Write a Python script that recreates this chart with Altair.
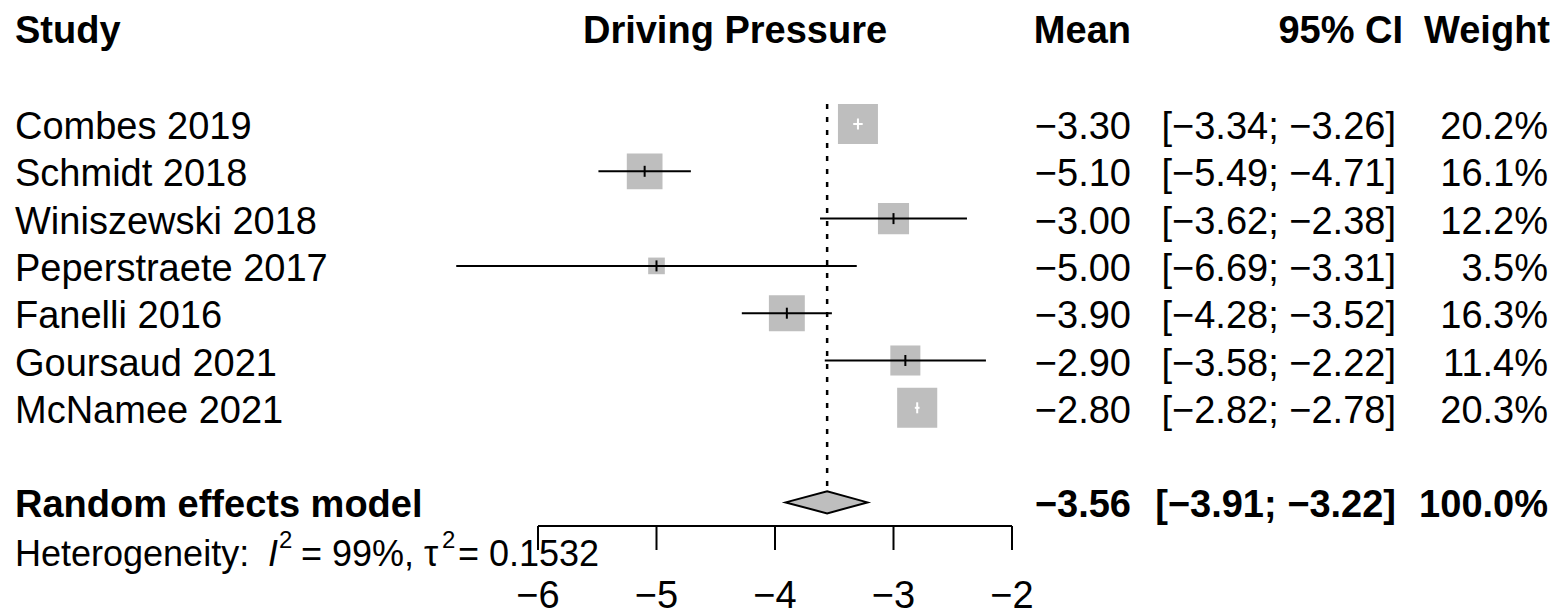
import math
import altair as alt
import pandas as pd

# ---------------- data ----------------
studies = ["Combes 2019", "Schmidt 2018", "Winiszewski 2018", "Peperstraete 2017",
           "Fanelli 2016", "Goursaud 2021", "McNamee 2021"]
means = [-3.30, -5.10, -3.00, -5.00, -3.90, -2.90, -2.80]
lowers = [-3.34, -5.49, -3.62, -6.69, -4.28, -3.58, -2.82]
uppers = [-3.26, -4.71, -2.38, -3.31, -3.52, -2.22, -2.78]
weights = [20.2, 16.1, 12.2, 3.5, 16.3, 11.4, 20.3]

pooled_label = "Random effects model"
pooled_mean = -3.56
pooled_lower = -3.91
pooled_upper = -3.22
pooled_weight = 100.0

x_ticks = [-6, -5, -4, -3, -2]
headers = ["Study", "Driving Pressure", "Mean", "95% CI", "Weight"]

# ---------------- layout constants ----------------
W, H = 1542, 607
PX_PER_UNIT = 118.5
X_AT_M6 = 530.0          # plot-px position of x = -6
ROW0_Y = 116.0           # plot-px of first study row
ROW_STEP = 47.3
FONT = "Liberation Sans"
FS = 38
GRAY = "#BEBEBE"

x_dom = [-6 - X_AT_M6 / PX_PER_UNIT, -6 + (W - X_AT_M6) / PX_PER_UNIT]
y_dom = [-ROW0_Y / ROW_STEP, (H - ROW0_Y) / ROW_STEP]
xs = alt.Scale(domain=x_dom, nice=False, zero=False)
ys = alt.Scale(domain=y_dom, nice=False, zero=False, reverse=True)


def row_of(plot_px):
    return (plot_px - ROW0_Y) / ROW_STEP


def fmt(v):
    return f"{v:.2f}".replace("-", "\u2212")


# ---------------- tables ----------------
rows = list(range(len(studies)))
MAX_SIDE = 40.0
ci_color = []
for l, u, w in zip(lowers, uppers, weights):
    side = MAX_SIDE * math.sqrt(w / 20.2)
    ci_color.append("white" if (u - l) * PX_PER_UNIT < side else "black")

df = pd.DataFrame({
    "row": rows,
    "study": studies,
    "mean": means,
    "lower": lowers,
    "upper": uppers,
    "weight": weights,
    "mean_txt": [fmt(m) for m in means],
    "ci_txt": [f"[{fmt(l)}; {fmt(u)}]" for l, u in zip(lowers, uppers)],
    "w_txt": [f"{w:.1f}%" for w in weights],
    "ci_color": ci_color,
})

POOL_ROW = 8
pool = pd.DataFrame({
    "row": [POOL_ROW],
    "label": [pooled_label],
    "mean_txt": [fmt(pooled_mean)],
    "ci_txt": [f"[{fmt(pooled_lower)}; {fmt(pooled_upper)}]"],
    "w_txt": [f"{pooled_weight:.1f}%"],
})

HALF_D = 11.0 / ROW_STEP
diamond = pd.DataFrame({
    "x": [pooled_lower, pooled_mean, pooled_upper],
    "y": [POOL_ROW, POOL_ROW - HALF_D, POOL_ROW],
    "y2": [POOL_ROW, POOL_ROW + HALF_D, POOL_ROW],
})

ref = pd.DataFrame({"x": [pooled_mean], "y": [row_of(96)], "y2": [row_of(482)]})

AXIS_ROW = row_of(518)
TICK_END = row_of(542)
axis_line = pd.DataFrame({"x": [min(x_ticks)], "x2": [max(x_ticks)], "y": [AXIS_ROW]})
ticks = pd.DataFrame({
    "x": x_ticks,
    "y": [AXIS_ROW] * len(x_ticks),
    "y2": [TICK_END] * len(x_ticks),
    "lab": [str(t).replace("-", "\u2212") for t in x_ticks],
    "ly": [row_of(600)] * len(x_ticks),
})

hdr = pd.DataFrame({"row": [-2], "h0": [headers[0]], "h1": [headers[1]], "h2": [headers[2]],
                    "h3": [headers[3]], "h4": [headers[4]]})

het = pd.DataFrame({"row": [row_of(558)]})

# ---------------- layers ----------------
def X(field):
    return alt.X(field, type="quantitative", scale=xs, axis=None)


def Y(field):
    return alt.Y(field, type="quantitative", scale=ys, axis=None)


def text_layer(data, field, xpix, align, bold=False, size=FS, dy=15, italic=False, yfield="row"):
    return alt.Chart(data).mark_text(
        align=align, baseline="alphabetic", font=FONT, fontSize=size, dy=dy,
        fontWeight="bold" if bold else "normal",
        fontStyle="italic" if italic else "normal", color="black",
    ).encode(x=alt.value(xpix), y=Y(yfield), text=alt.Text(f"{field}:N"))


ref_line = alt.Chart(ref).mark_rule(color="black", strokeWidth=2.5, strokeDash=[5, 8]).encode(
    x=X("x"), y=Y("y"), y2="y2")

squares = alt.Chart(df).mark_square(color=GRAY, opacity=1, filled=True, strokeWidth=0).encode(
    x=X("mean"), y=Y("row"),
    size=alt.Size("weight:Q", scale=alt.Scale(domain=[0, 20.2], range=[0, MAX_SIDE ** 2]), legend=None))

ci = alt.Chart(df).mark_rule(strokeWidth=2).encode(
    x=X("lower"), x2="upper", y=Y("row"), color=alt.Color("ci_color:N", scale=None))

mtick = alt.Chart(df).transform_calculate(
    yt=f"datum.row - {5.5 / ROW_STEP}", yb=f"datum.row + {5.5 / ROW_STEP}"
).mark_rule(strokeWidth=2).encode(
    x=X("mean"), y=Y("yt"), y2="yb", color=alt.Color("ci_color:N", scale=None))

dia = alt.Chart(diamond).mark_area(orient="vertical", fill=GRAY, stroke="black",
                                   strokeWidth=2, opacity=1).encode(
    x=X("x"), y=Y("y"), y2="y2")

ax_line = alt.Chart(axis_line).mark_rule(color="black", strokeWidth=2).encode(
    x=X("x"), x2="x2", y=Y("y"))
ax_ticks = alt.Chart(ticks).mark_rule(color="black", strokeWidth=2).encode(
    x=X("x"), y=Y("y"), y2="y2")
ax_labels = alt.Chart(ticks).mark_text(font=FONT, fontSize=FS, align="center",
                                       baseline="alphabetic", color="black").encode(
    x=X("x"), y=Y("ly"), text="lab:N")

HDY = 14
layers = [
    ref_line, squares, ci, mtick, dia, ax_line, ax_ticks, ax_labels,
    # headers
    text_layer(hdr, "h0", 7, "left", bold=True, dy=HDY),
    text_layer(hdr, "h1", 727, "center", bold=True, dy=HDY),
    text_layer(hdr, "h2", 1123, "right", bold=True, dy=HDY),
    text_layer(hdr, "h3", 1395, "right", bold=True, dy=HDY),
    text_layer(hdr, "h4", 1542, "right", bold=True, dy=HDY),
    # studies
    text_layer(df, "study", 7, "left"),
    text_layer(df, "mean_txt", 1123, "right"),
    text_layer(df, "ci_txt", 1388, "right"),
    text_layer(df, "w_txt", 1540, "right"),
    # pooled
    text_layer(pool, "label", 7, "left", bold=True),
    text_layer(pool, "mean_txt", 1123, "right", bold=True),
    text_layer(pool, "ci_txt", 1388, "right", bold=True),
    text_layer(pool, "w_txt", 1540, "right", bold=True),
]

# heterogeneity line, pieced together
HS = 36
het_parts = [
    ("Heterogeneity:", 7, HS, 0, False),
    ("I", 260, HS, 0, True),
    ("2", 271, 24, -18, False),
    ("= 99%, \u03c4", 293, HS, 0, False),
    ("2", 434, 24, -18, False),
    ("= 0.1532", 450, HS, 0, False),
]
for txt, xp, sz, dyy, it in het_parts:
    d = het.assign(t=txt)
    layers.append(text_layer(d, "t", xp, "left", size=sz, dy=dyy, italic=it))

chart = alt.layer(*layers).properties(
    width=W, height=H, autosize=alt.AutoSizeParams(type="none"), padding=0
).configure_view(stroke=None)

chart.save("out.html", embed_options={"renderer": "svg", "actions": False})
